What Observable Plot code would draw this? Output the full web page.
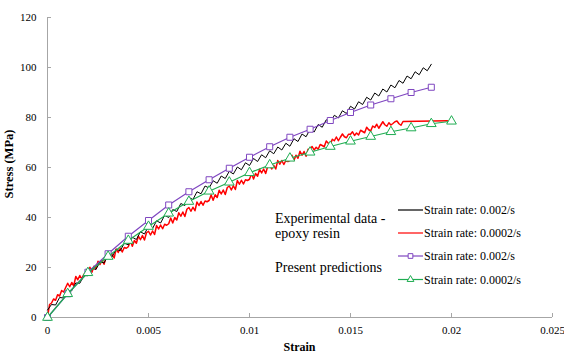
<!DOCTYPE html>
<html>
<head>
<meta charset="utf-8">
<script src="https://cdn.jsdelivr.net/npm/d3@7"></script>
<script src="https://cdn.jsdelivr.net/npm/@observablehq/plot@0.6"></script>
<style>
  body { margin: 0; background: #fff; }
  svg { display: block; }
</style>
</head>
<body>
<div id="chart"></div>
<script>
// Axis ticks
const strainTicks = [0, 0.005, 0.01, 0.015, 0.02, 0.025];
const stressTicks = [0, 20, 40, 60, 80, 100, 120];

// Model predictions (one marker per 0.001 strain)
const predStrainFast = [0, 0.001, 0.002, 0.003, 0.004, 0.005, 0.006, 0.007, 0.008, 0.009,
  0.010, 0.011, 0.012, 0.013, 0.014, 0.015, 0.016, 0.017, 0.018, 0.019];
const predStressFast = [0, 9.5, 18.1, 25.5, 32.5, 38.8, 45.0, 50.3, 55.1, 59.7,
  64.1, 68.3, 72.1, 75.3, 78.8, 82.0, 85.0, 87.5, 90.0, 92.1];

const predStrainSlow = [0, 0.001, 0.002, 0.003, 0.004, 0.005, 0.006, 0.007, 0.008, 0.009,
  0.010, 0.011, 0.012, 0.013, 0.014, 0.015, 0.016, 0.017, 0.018, 0.019, 0.020];
const predStressSlow = [0, 9.5, 17.9, 24.4, 30.8, 36.4, 41.7, 46.4, 50.5, 54.1,
  57.9, 61.0, 63.7, 66.1, 68.4, 70.5, 72.4, 74.3, 75.8, 77.5, 78.5];

// Experimental record, 0.002/s, sampled every 0.0002 strain
const expStepFast = 0.0002;
const expStressFast = [
  3.0, 5.2, 5.0, 8.0, 7.8, 10.8,
  10.7, 13.8, 13.7, 16.8, 16.7,
  19.7, 19.2, 22.3, 21.8, 24.9,
  24.3, 27.3, 26.7, 29.7, 29.1,
  32.1, 31.2, 34.3, 33.4, 36.5,
  35.6, 38.7, 37.8, 40.9, 40.0,
  43.2, 42.4, 45.6, 44.8, 48.0,
  47.2, 50.3, 49.5, 52.6, 51.8,
  54.7, 53.7, 56.6, 55.6, 58.5,
  57.4, 60.2, 59.1, 61.9, 60.8,
  63.6, 62.4, 65.1, 63.9, 66.7,
  65.5, 68.2, 67.0, 69.7, 68.5,
  71.5, 70.4, 73.4, 72.3, 75.3,
  74.2, 77.2, 76.1, 79.1, 78.0,
  80.9, 79.8, 82.7, 81.6, 84.5,
  83.4, 86.3, 85.2, 88.1, 87.0,
  89.8, 88.6, 91.4, 90.2, 93.0,
  91.9, 94.8, 93.7, 96.6, 95.5,
  98.3, 97.1, 99.9, 98.7, 101.3
];

// Experimental record, 0.0002/s, sampled every 0.0001 strain
const expStepSlow = 0.0001;
const expStressSlow = [
  0.0, 5.2, 5.8, 7.4, 6.9, 9.1, 8.6, 10.8, 10.2, 12.0,
  13.7, 12.3, 14.0, 12.7, 16.4, 15.1, 16.8, 15.4, 17.3, 17.0,
  17.7, 20.1, 18.1, 20.5, 19.5, 22.5, 21.2, 22.9, 21.3, 24.2,
  25.0, 23.5, 25.2, 23.8, 27.4, 26.0, 27.7, 26.2, 28.0, 27.7,
  28.3, 30.6, 28.5, 30.8, 29.7, 32.6, 31.1, 32.8, 31.0, 33.9,
  34.5, 33.0, 34.6, 33.2, 36.8, 35.4, 37.0, 35.5, 37.3, 36.9,
  37.5, 39.8, 37.8, 40.0, 39.0, 41.9, 40.5, 42.2, 40.4, 43.3,
  44.0, 42.5, 44.1, 42.7, 46.2, 44.8, 46.4, 44.9, 46.6, 46.3,
  46.8, 49.0, 46.9, 49.1, 48.0, 50.9, 49.4, 51.0, 49.2, 52.0,
  52.6, 51.0, 52.7, 51.2, 54.8, 53.3, 54.9, 53.4, 55.1, 54.8,
  55.3, 57.5, 55.4, 57.6, 56.5, 59.3, 57.8, 59.4, 57.6, 60.4,
  61.0, 59.4, 60.9, 59.4, 62.8, 61.3, 62.8, 61.2, 62.8, 62.4,
  62.8, 64.9, 62.8, 64.9, 63.7, 66.5, 64.9, 66.4, 64.5, 67.3,
  67.4, 68.4, 67.0, 68.1, 67.3, 69.2, 68.8, 68.3, 70.6, 69.7,
  69.2, 71.3, 70.7, 72.2, 70.7, 72.1, 73.4, 72.3, 71.9, 73.3,
  73.3, 74.3, 72.8, 73.8, 73.0, 74.9, 74.4, 73.9, 76.1, 75.1,
  74.6, 76.6, 76.0, 77.3, 75.7, 77.0, 78.3, 77.1, 76.5, 77.9,
  77.0, 77.6, 78.3, 78.6, 77.5, 76.9, 78.4
];
// end of the slow test: flat segment to the last recorded point
const expTailStrainSlow = [0.0198];
const expTailStressSlow = [78.7];

// Legend content
const groupLabels = ["Experimental data -", "epoxy resin", "Present predictions"];
const seriesLabels = ["Strain rate: 0.002/s", "Strain rate: 0.0002/s", "Strain rate: 0.002/s", "Strain rate: 0.0002/s"];
const axisTitles = {x: "Strain", y: "Stress (MPa)"};

const colors = {black: "#000000", red: "#ff0000", purple: "#7f46c0", green: "#1fad52", axis: "#a6a6a6"};
const serif = "'Liberation Serif', 'Times New Roman', Times, serif";

// Build tables for the marks
const fastPred = predStrainFast.map((x, i) => ({x, y: predStressFast[i]}));
const slowPred = predStrainSlow.map((x, i) => ({x, y: predStressSlow[i]}));
const fastExp = expStressFast.map((y, i) => ({x: i * expStepFast, y}));
const slowExp = expStressSlow.map((y, i) => ({x: i * expStepSlow, y}))
  .concat(expTailStrainSlow.map((x, i) => ({x, y: expTailStressSlow[i]})));

const W = 564, H = 354;
const mL = 47, mR = 12, mT = 17, mB = 37;

const chart = Plot.plot({
  width: W,
  height: H,
  marginLeft: mL,
  marginRight: mR,
  marginTop: mT,
  marginBottom: mB,
  x: {domain: [0, 0.025]},
  y: {domain: [0, 120]},
  marks: [
    // axis lines and inward ticks
    Plot.ruleX([0], {stroke: colors.axis, strokeWidth: 1}),
    Plot.ruleY([0], {stroke: colors.axis, strokeWidth: 1}),
    Plot.tickX(strainTicks, {x: d => d, stroke: colors.axis, insetTop: H - mT - mB - 4}),
    Plot.tickY(stressTicks, {y: d => d, stroke: colors.axis, insetRight: W - mL - mR - 4}),
    Plot.axisX({ticks: strainTicks, tickSize: 0, tickPadding: 9, tickFormat: d => String(d), label: null, fontSize: 11, fontFamily: serif}),
    Plot.axisY({ticks: stressTicks, tickSize: 0, tickPadding: 11, tickFormat: d => String(d), label: null, fontSize: 11, fontFamily: serif}),
    // experimental curves
    Plot.line(slowExp, {x: "x", y: "y", stroke: colors.red, strokeWidth: 1.5}),
    Plot.line(fastExp, {x: "x", y: "y", stroke: colors.black, strokeWidth: 1}),
    // predictions
    Plot.line(fastPred, {x: "x", y: "y", stroke: colors.purple, strokeWidth: 1.2}),
    Plot.dot(fastPred, {x: "x", y: "y", symbol: "square", r: 3.4, stroke: colors.purple, fill: "#fff", strokeWidth: 1}),
    Plot.line(slowPred, {x: "x", y: "y", stroke: colors.green, strokeWidth: 1.2}),
    Plot.dot(slowPred, {x: "x", y: "y", symbol: "triangle", r: 3.6, stroke: colors.green, fill: "#fff", strokeWidth: 1})
  ]
});

document.getElementById("chart").appendChild(chart);

const svg = d3.select(chart);

// Axis titles
svg.append("text").attr("x", (mL + W - mR) / 2).attr("y", 347).attr("dy", "0.35em")
  .attr("text-anchor", "middle").attr("font-size", 12).attr("font-weight", "bold").attr("fill", "#000")
  .text(axisTitles.x);
svg.append("text").attr("transform", "translate(9,164) rotate(-90)").attr("dy", "0.35em")
  .attr("text-anchor", "middle").attr("font-size", 12.5).attr("font-weight", "bold").attr("fill", "#000")
  .text(axisTitles.y);

// Legend inside the plot area
const lg = svg.append("g").attr("text-anchor", "start").attr("fill", "#000");

const groupY = [218, 233.5, 267];
groupLabels.forEach((t, i) => {
  lg.append("text").attr("x", 275).attr("y", groupY[i]).attr("dy", "0.35em")
    .attr("font-size", 14).text(t);
});

const rowY = [210, 233, 256, 279.5];
const rowColor = [colors.black, colors.red, colors.purple, colors.green];
const rowSymbol = [null, null, d3.symbolSquare, d3.symbolTriangle];
seriesLabels.forEach((t, i) => {
  lg.append("line").attr("x1", 398).attr("x2", 423).attr("y1", rowY[i]).attr("y2", rowY[i])
    .attr("stroke", rowColor[i]).attr("stroke-width", 1.2);
  if (rowSymbol[i]) {
    lg.append("path").attr("d", d3.symbol(rowSymbol[i], i === 2 ? 22 : 20)())
      .attr("transform", `translate(410.5,${rowY[i]})`)
      .attr("fill", "#fff").attr("stroke", rowColor[i]).attr("stroke-width", 1);
  }
  lg.append("text").attr("x", 424).attr("y", rowY[i]).attr("dy", "0.35em")
    .attr("font-size", 12).text(t);
});

// serif face for every label in the figure
svg.selectAll("text").style("font-family", serif);
</script>
</body>
</html>
